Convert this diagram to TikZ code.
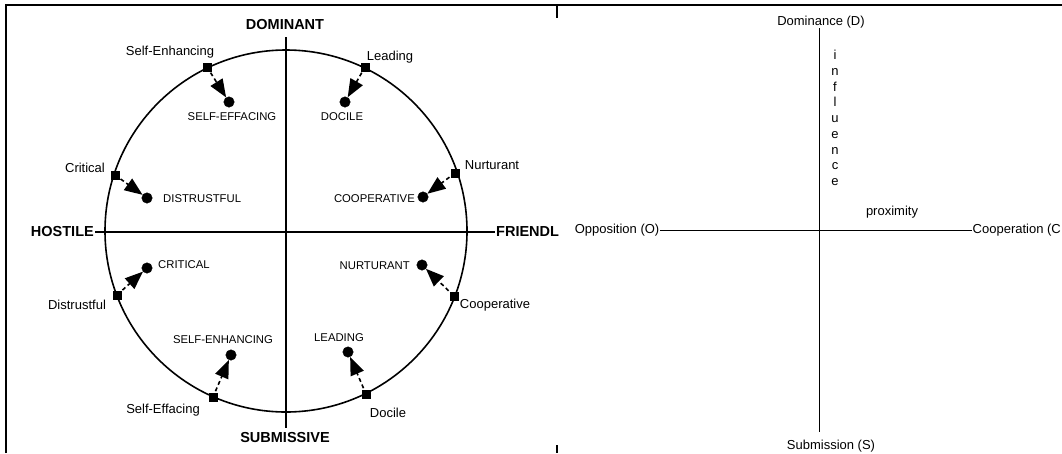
\documentclass[tikz,border=0pt]{standalone}
\usepackage{fontspec}
\setmainfont{Liberation Sans}
\usetikzlibrary{positioning, arrows.meta}

\begin{document}
\begin{tikzpicture}[x=1pt, y=-1pt,
  axis/.style={line width=1.6pt},
  pole/.style={font=\fontsize{14.5}{16}\selectfont\bfseries, inner sep=1pt},
  trait/.style={font=\fontsize{13}{15}\selectfont, inner sep=1pt},
  state/.style={font=\fontsize{11.3}{13}\selectfont, inner sep=1pt},
  corner/.style={draw, fill, rectangle, minimum size=7.5pt, inner sep=0pt},
  spot/.style={draw, fill, circle, minimum size=10.5pt, inner sep=0pt},
  pull/.style={dash pattern=on 4pt off 3pt, line width=1.6pt, shorten <=2pt,
    -{Triangle[length=18pt, width=14pt]}},
  dim/.style={font=\fontsize{13}{15.75}\selectfont, inner sep=0.5pt}]
  \useasboundingbox (0,0) rectangle (1062,453);

  % frame of the two panels
  \draw[line width=2pt] (6,453) -- (6,5) -- (1062,5);
  \draw[line width=2pt] (557,5) -- (557,18);
  \draw[line width=2pt] (557,445) -- (557,453);

  % left panel: interpersonal circle
  \coordinate (c) at (286,231);
  \coordinate (top) at (286,37);
  \coordinate (bot) at (286,428);
  \draw[axis] (c) circle[radius=181];
  \node[pole] (dom) at (285,25) {DOMINANT};
  \node[pole] (sub) at (285,437) {SUBMISSIVE};
  \node[pole, anchor=east] (hos) at (95,232) {HOSTILE};
  \node[pole, anchor=west] (fri) at (495,232) {FRIENDL};
  \draw[axis] (top) -- (bot);
  \draw[axis] (hos) -- (fri);

  % outer behaviours
  \node[corner] (sqSEn) at (207,67) {};
  \node[corner] (sqLea) at (365,67) {};
  \node[corner] (sqCri) at (115,175) {};
  \node[corner] (sqNur) at (455,173) {};
  \node[corner] (sqDis) at (117,295) {};
  \node[corner] (sqCoo) at (454,296) {};
  \node[corner] (sqSEf) at (213,397) {};
  \node[corner] (sqDoc) at (366,394) {};

  \node[trait] (tSEn) at (170,52) {Self-Enhancing};
  \node[trait] (tLea) at (390,57) {Leading};
  \node[trait] (tCri) at (85,168) {Critical};
  \node[trait] (tNur) at (492,165) {Nurturant};
  \node[trait] (tDis) at (77,305) {Distrustful};
  \node[trait] (tCoo) at (495,305) {Cooperative};
  \node[trait] (tSEf) at (163,410) {Self-Effacing};
  \node[trait] (tDoc) at (388,413) {Docile};

  % evoked responses
  \node[spot] (dSEf) at (229,102) {};
  \node[spot] (dDoc) at (345,102) {};
  \node[spot] (dDis) at (147,198) {};
  \node[spot] (dCoo) at (423,197) {};
  \node[spot] (dCri) at (147,268) {};
  \node[spot] (dNur) at (422,265) {};
  \node[spot] (dSEn) at (231,355) {};
  \node[spot] (dLea) at (348,352) {};

  \node[state] (sSEf) at (232,117) {SELF-EFFACING};
  \node[state] (sDoc) at (342,117) {DOCILE};
  \node[state, anchor=west] (sDis) at (162,199) {DISTRUSTFUL};
  \node[state, anchor=east] (sCoo) at (416,199) {COOPERATIVE};
  \node[state, anchor=west] (sCri) at (157,265) {CRITICAL};
  \node[state, anchor=east] (sNur) at (411,266) {NURTURANT};
  \node[state] (sSEn) at (223,340) {SELF-ENHANCING};
  \node[state] (sLea) at (339,338) {LEADING};

  \foreach \a/\b in {sqSEn/dSEf, sqLea/dDoc, sqCri/dDis, sqNur/dCoo,
                     sqDis/dCri, sqCoo/dNur, sqSEf/dSEn, sqDoc/dLea}
    \draw[pull] (\a) -- (\b);

  % right panel: dimensions
  \node[dim] (D) at (821,22) {Dominance (D)};
  \node[dim] (S) at (831,446) {Submission (S)};
  \node[dim, anchor=east] (O) at (660,230) {Opposition (O)};
  \node[dim, anchor=west] (C) at (972,230) {Cooperation (C};
  \coordinate (Dend) at (819,28);
  \coordinate (Send) at (819,432);
  \draw[line width=1pt] (Dend) -- (Send);
  \draw[line width=1pt] (O) -- (C);
  \node[dim, align=center] (infl) at (835,118) {i\\n\\f\\l\\u\\e\\n\\c\\e};
  \node[dim] (prox) at (892,212) {proximity};
\end{tikzpicture}
\end{document}
